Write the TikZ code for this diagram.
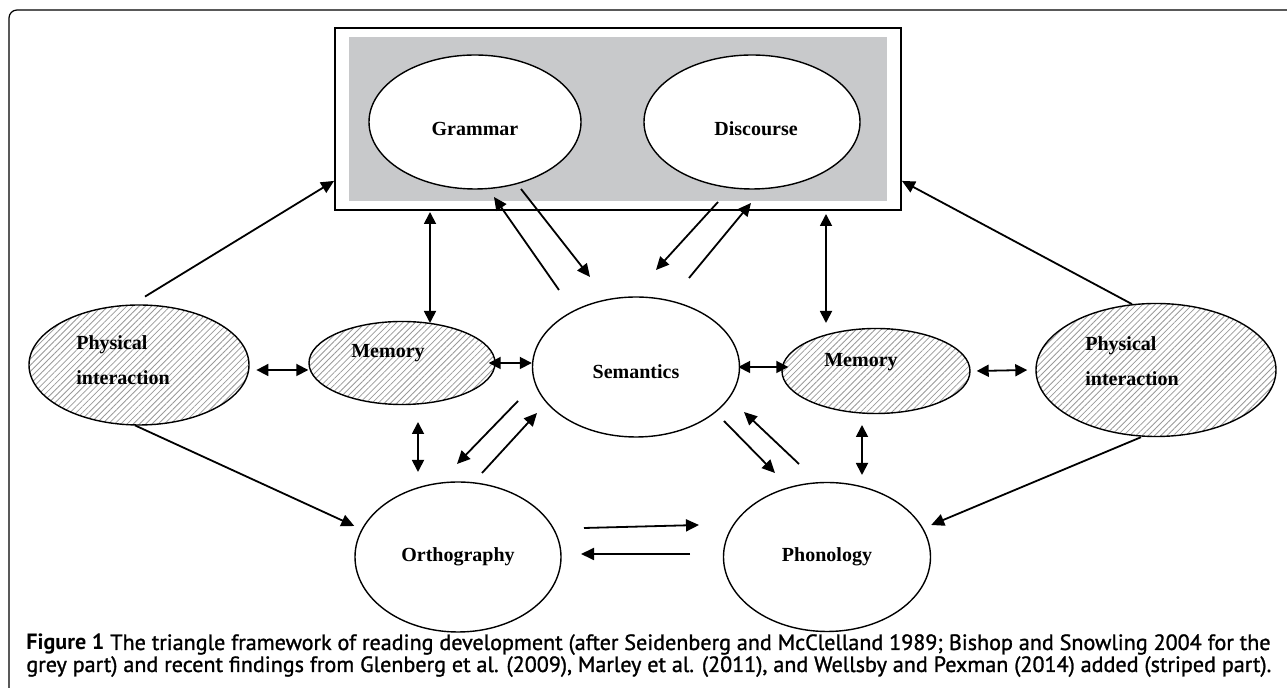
\documentclass[tikz,border=0pt]{standalone}
\usepackage{fontspec}
\setmainfont{Liberation Serif}
\newfontfamily\capfont[FakeBold=1.2]{PT Sans}
\newfontfamily\capbold{PT Sans Bold}
\usetikzlibrary{arrows.meta,shapes.geometric,patterns.meta}
\definecolor{greypart}{RGB}{200,201,203}

\begin{document}
\begin{tikzpicture}[x=0.5pt,y=-0.5pt,
    lbl/.style={font=\bfseries\fontsize{10}{17.5}\selectfont},
    oval/.style={ellipse,draw,line width=0.7pt,fill=white,inner sep=0pt},
    striped/.style={ellipse,draw,line width=0.7pt,inner sep=0pt,
      pattern={Lines[angle=45,distance=2.2pt,line width=0.4pt]},pattern color=gray!80},
    arr/.style={-{Triangle[length=6.5pt,width=6pt]},line width=0.9pt},
    dbl/.style={{Triangle[length=6pt,width=6pt]}-{Triangle[length=6pt,width=6pt]},line width=0.9pt},
    caption/.style={anchor=base west,inner sep=0pt,font=\capfont\fontsize{11.05}{12}\selectfont}]
    \useasboundingbox (0,0) rectangle (1287,688);
    \draw[line width=0.6pt,rounded corners=4pt] (9,700) -- (9,10) -- (1300,10);
    % grey part
    \node[draw,line width=0.9pt,minimum width=283pt,minimum height=91pt] (box) at (618,119) {};
    \fill[greypart] ([shift={(7.5pt,-5pt)}]box.north west) rectangle ([shift={(-7.5pt,5pt)}]box.south east);
    \node[oval,minimum width=106pt,minimum height=67pt,
      label={[lbl,yshift=-3.5pt]center:Grammar}] (gram) at (475,122) {};
    \node[oval,minimum width=108pt,minimum height=67pt,
      label={[lbl,shift={(2pt,-3.5pt)}]center:Discourse}] (disc) at (752,122) {};
    % triangle
    \node[oval,minimum width=103.5pt,minimum height=70pt,
      label={[lbl,yshift=-2.5pt]center:Semantics}] (sem) at (636,367) {};
    \node[oval,minimum width=103pt,minimum height=75pt,
      label={[lbl]center:Orthography}] (orth) at (458,557) {};
    \node[oval,minimum width=103.5pt,minimum height=74.5pt,
      label={[lbl]center:Phonology}] (phon) at (827,557) {};
    % striped part
    \node[striped,minimum width=110pt,minimum height=60pt,
      label={[lbl,align=left,shift={(-8pt,2.5pt)}]center:Physical\\interaction}] (pL) at (139,365) {};
    \node[striped,minimum width=93pt,minimum height=41.5pt,
      label={[lbl,shift={(-7pt,5pt)}]center:Memory}] (mL) at (402,363) {};
    \node[striped,minimum width=94pt,minimum height=42.5pt,
      label={[lbl,shift={(-7.5pt,4.5pt)}]center:Memory}] (mR) at (876,371) {};
    \node[striped,minimum width=120pt,minimum height=66.5pt,
      label={[lbl,align=left,shift={(-12pt,4.5pt)}]center:Physical\\interaction}] (pR) at (1156,370) {};
    % free ends of the paired arrows
    \foreach \n/\px/\py in {g1/559/290,g2/494/197,g3/521/189,g4/590/277,
        d1/718/202,d2/656/270,d3/689/278,d4/751/203,
        o1/518/401,o2/457/464,o3/482/473,o4/537/413,
        p1/724/421,p2/775/473,p3/799/464,p4/744/412,
        h1/584/528,h2/699/525,h3/690/554,h4/581/554,
        b1/430/212,b2/430/323,b3/826/214,b4/826/323,
        v1/418/422,v2/418/472,v3/862/425,v4/862/475}
      \coordinate (\n) at (\px,\py);
    \draw[arr] (g1) -- (g2);
    \draw[arr] (g3) -- (g4);
    \draw[arr] (d1) -- (d2);
    \draw[arr] (d3) -- (d4);
    \draw[arr] (o1) -- (o2);
    \draw[arr] (o3) -- (o4);
    \draw[arr] (p1) -- (p2);
    \draw[arr] (p3) -- (p4);
    \draw[arr] (h1) -- (h2);
    \draw[arr] (h3) -- (h4);
    \draw[dbl] (b1) -- (b2);
    \draw[dbl] (b3) -- (b4);
    \draw[dbl] (v1) -- (v2);
    \draw[dbl] (v3) -- (v4);
    \draw[arr] ([xshift=3pt,yshift=4pt]pL.north) -- ([yshift=15pt]box.south west);
    \draw[arr] (pR.110) -- ([yshift=15pt]box.south east);
    \draw[arr] ([xshift=-2pt]pL.south) -- ([yshift=15.5pt]orth.west);
    \draw[arr] ([xshift=-7.5pt]pR.south) -- ([yshift=16pt]phon.east);
    \draw[dbl] ([xshift=3.5pt,yshift=-2.5pt]pL.east) -- ([yshift=-3.5pt]mL.west);
    \draw[dbl] ([xshift=-3.5pt]mL.east) -- ([yshift=2pt]sem.west);
    \draw[dbl] ([xshift=-1pt]sem.east) -- ([xshift=3.5pt,yshift=2pt]mR.west);
    \draw[dbl] ([xshift=3pt]mR.east) -- ([xshift=-4pt]pR.west);
    % caption
    \node[caption] (cap1) at (26,650) {{\capbold Figure 1} The triangle framework of reading development (after Seidenberg and McClelland 1989; Bishop and Snowling 2004 for the};
    \node[caption] (cap2) at (26,672) {grey part) and recent findings from Glenberg et al. (2009), Marley et al. (2011), and Wellsby and Pexman (2014) added (striped part).};
\end{tikzpicture}
\end{document}
